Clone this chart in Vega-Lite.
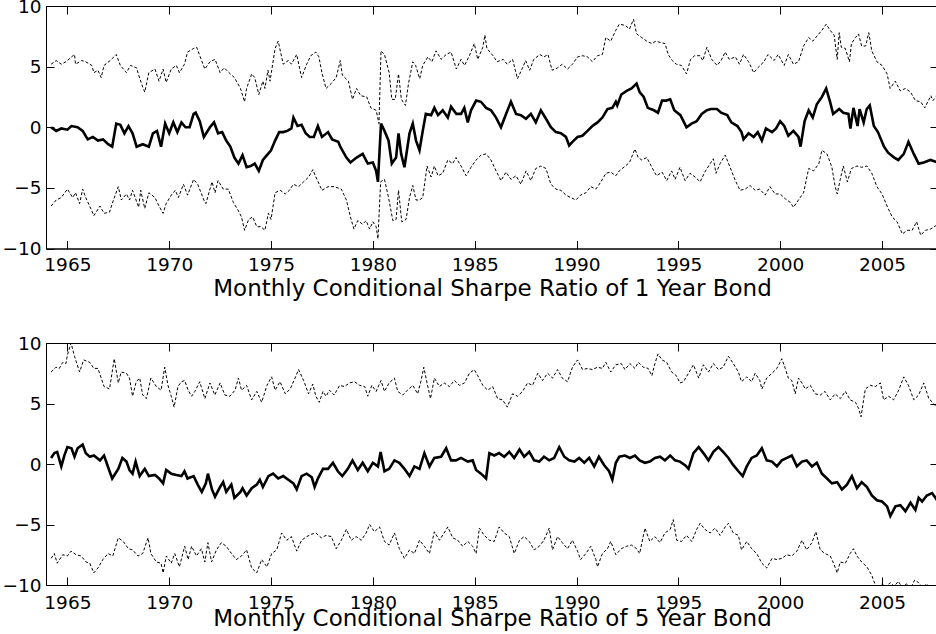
{
"$schema": "https://vega.github.io/schema/vega-lite/v6.json",
"background": "white",
"padding": {"left": 1, "top": -4, "right": 0, "bottom": 0},
"bounds": "flush",
"spacing": 94,
"config": {
  "font": "DejaVu Sans",
  "view": {"stroke": "black", "strokeWidth": 1},
  "axis": {"grid": false, "domainColor": "black", "tickColor": "black", "labelColor": "black", "titleColor": "black",
    "labelFont": "DejaVu Sans", "labelFontSize": 18.5, "titleFont": "DejaVu Sans", "titleFontSize": 23, "titleFontWeight": "normal",
    "tickSize": -8, "tickWidth": 1, "domainWidth": 1}
},
"datasets": {
"p1": [
{"s":"m","t":1964.2,"v":0.0},{"s":"m","t":1964.45,"v":-0.3},{"s":"m","t":1964.7,"v":-0.1},{"s":"m","t":1965.0,"v":-0.2},{"s":"m","t":1965.2,"v":0.1},{"s":"m","t":1965.5,"v":0.0},{"s":"m","t":1965.75,"v":-0.3},{"s":"m","t":1966.0,"v":-1.0},{"s":"m","t":1966.25,"v":-0.8},{"s":"m","t":1966.5,"v":-1.1},{"s":"m","t":1966.75,"v":-1.0},{"s":"m","t":1967.0,"v":-1.4},{"s":"m","t":1967.2,"v":-1.6},{"s":"m","t":1967.4,"v":0.3},{"s":"m","t":1967.6,"v":0.2},{"s":"m","t":1967.8,"v":-0.5},{"s":"m","t":1968.0,"v":0.1},{"s":"m","t":1968.2,"v":-0.5},{"s":"m","t":1968.4,"v":-1.6},{"s":"m","t":1968.7,"v":-1.4},{"s":"m","t":1969.0,"v":-1.6},{"s":"m","t":1969.2,"v":-0.5},{"s":"m","t":1969.4,"v":-0.3},{"s":"m","t":1969.6,"v":-1.6},{"s":"m","t":1969.8,"v":0.3},{"s":"m","t":1970.0,"v":-0.5},{"s":"m","t":1970.2,"v":0.4},{"s":"m","t":1970.4,"v":-0.4},{"s":"m","t":1970.6,"v":0.4},{"s":"m","t":1970.8,"v":0.0},{"s":"m","t":1971.0,"v":0.0},{"s":"m","t":1971.2,"v":1.1},{"s":"m","t":1971.3,"v":1.2},{"s":"m","t":1971.5,"v":0.5},{"s":"m","t":1971.7,"v":-0.8},{"s":"m","t":1972.0,"v":0.0},{"s":"m","t":1972.2,"v":0.4},{"s":"m","t":1972.4,"v":-0.5},{"s":"m","t":1972.6,"v":-0.4},{"s":"m","t":1972.8,"v":-1.1},{"s":"m","t":1973.0,"v":-1.6},{"s":"m","t":1973.2,"v":-2.5},{"s":"m","t":1973.4,"v":-3.0},{"s":"m","t":1973.6,"v":-2.3},{"s":"m","t":1973.8,"v":-3.3},{"s":"m","t":1974.0,"v":-3.2},{"s":"m","t":1974.2,"v":-3.0},{"s":"m","t":1974.4,"v":-3.6},{"s":"m","t":1974.6,"v":-2.7},{"s":"m","t":1974.8,"v":-2.3},{"s":"m","t":1975.0,"v":-1.9},{"s":"m","t":1975.2,"v":-1.1},{"s":"m","t":1975.4,"v":-0.4},{"s":"m","t":1975.6,"v":-0.4},{"s":"m","t":1975.8,"v":-0.3},{"s":"m","t":1976.0,"v":-0.1},{"s":"m","t":1976.1,"v":0.8},{"s":"m","t":1976.3,"v":0.1},{"s":"m","t":1976.5,"v":0.2},{"s":"m","t":1976.7,"v":-0.5},{"s":"m","t":1976.9,"v":-0.8},{"s":"m","t":1977.1,"v":-0.8},{"s":"m","t":1977.3,"v":0.1},{"s":"m","t":1977.5,"v":-0.8},{"s":"m","t":1977.8,"v":-0.4},{"s":"m","t":1978.0,"v":-1.0},{"s":"m","t":1978.3,"v":-1.2},{"s":"m","t":1978.4,"v":-1.6},{"s":"m","t":1978.7,"v":-2.5},{"s":"m","t":1978.9,"v":-2.9},{"s":"m","t":1979.2,"v":-2.5},{"s":"m","t":1979.5,"v":-2.2},{"s":"m","t":1979.75,"v":-3.0},{"s":"m","t":1980.0,"v":-2.9},{"s":"m","t":1980.16,"v":-3.6},{"s":"m","t":1980.25,"v":-4.5},{"s":"m","t":1980.4,"v":0.3},{"s":"m","t":1980.57,"v":-0.3},{"s":"m","t":1980.77,"v":-1.1},{"s":"m","t":1980.93,"v":-3.0},{"s":"m","t":1981.14,"v":-2.5},{"s":"m","t":1981.26,"v":-0.5},{"s":"m","t":1981.39,"v":-2.2},{"s":"m","t":1981.55,"v":-3.3},{"s":"m","t":1981.8,"v":-0.5},{"s":"m","t":1981.96,"v":0.3},{"s":"m","t":1982.12,"v":-1.1},{"s":"m","t":1982.29,"v":-1.9},{"s":"m","t":1982.45,"v":-0.3},{"s":"m","t":1982.6,"v":1.1},{"s":"m","t":1982.86,"v":1.0},{"s":"m","t":1983.02,"v":1.6},{"s":"m","t":1983.2,"v":1.0},{"s":"m","t":1983.43,"v":1.4},{"s":"m","t":1983.68,"v":0.8},{"s":"m","t":1983.84,"v":1.7},{"s":"m","t":1984.1,"v":1.1},{"s":"m","t":1984.33,"v":1.1},{"s":"m","t":1984.49,"v":1.6},{"s":"m","t":1984.66,"v":0.4},{"s":"m","t":1984.82,"v":1.4},{"s":"m","t":1985.07,"v":2.2},{"s":"m","t":1985.31,"v":2.1},{"s":"m","t":1985.56,"v":1.6},{"s":"m","t":1985.8,"v":1.4},{"s":"m","t":1986.05,"v":0.8},{"s":"m","t":1986.29,"v":0.0},{"s":"m","t":1986.54,"v":1.1},{"s":"m","t":1986.78,"v":2.1},{"s":"m","t":1987.03,"v":1.1},{"s":"m","t":1987.27,"v":1.0},{"s":"m","t":1987.52,"v":0.7},{"s":"m","t":1987.76,"v":1.1},{"s":"m","t":1988.0,"v":0.4},{"s":"m","t":1988.25,"v":1.4},{"s":"m","t":1988.5,"v":0.7},{"s":"m","t":1988.74,"v":0.0},{"s":"m","t":1988.99,"v":-0.4},{"s":"m","t":1989.23,"v":-0.5},{"s":"m","t":1989.48,"v":-0.8},{"s":"m","t":1989.64,"v":-1.5},{"s":"m","t":1989.8,"v":-1.2},{"s":"m","t":1990.05,"v":-0.8},{"s":"m","t":1990.29,"v":-0.7},{"s":"m","t":1990.54,"v":-0.3},{"s":"m","t":1990.78,"v":0.1},{"s":"m","t":1991.03,"v":0.4},{"s":"m","t":1991.27,"v":0.8},{"s":"m","t":1991.52,"v":1.5},{"s":"m","t":1991.76,"v":1.6},{"s":"m","t":1991.93,"v":2.1},{"s":"m","t":1992.0,"v":1.8},{"s":"m","t":1992.2,"v":2.7},{"s":"m","t":1992.46,"v":3.0},{"s":"m","t":1992.7,"v":3.2},{"s":"m","t":1992.95,"v":3.6},{"s":"m","t":1993.1,"v":2.9},{"s":"m","t":1993.3,"v":2.5},{"s":"m","t":1993.5,"v":1.6},{"s":"m","t":1993.8,"v":1.4},{"s":"m","t":1994.0,"v":1.2},{"s":"m","t":1994.2,"v":2.2},{"s":"m","t":1994.4,"v":2.2},{"s":"m","t":1994.6,"v":2.3},{"s":"m","t":1994.8,"v":1.4},{"s":"m","t":1995.1,"v":1.0},{"s":"m","t":1995.25,"v":0.5},{"s":"m","t":1995.4,"v":0.0},{"s":"m","t":1995.65,"v":0.3},{"s":"m","t":1995.9,"v":0.5},{"s":"m","t":1996.15,"v":1.1},{"s":"m","t":1996.4,"v":1.4},{"s":"m","t":1996.6,"v":1.5},{"s":"m","t":1996.9,"v":1.5},{"s":"m","t":1997.1,"v":1.2},{"s":"m","t":1997.4,"v":1.0},{"s":"m","t":1997.6,"v":0.4},{"s":"m","t":1997.9,"v":0.1},{"s":"m","t":1998.1,"v":-0.4},{"s":"m","t":1998.2,"v":-1.0},{"s":"m","t":1998.45,"v":-0.5},{"s":"m","t":1998.7,"v":-0.8},{"s":"m","t":1998.9,"v":-0.4},{"s":"m","t":1999.1,"v":-1.1},{"s":"m","t":1999.3,"v":-0.1},{"s":"m","t":1999.6,"v":-0.4},{"s":"m","t":1999.8,"v":-0.1},{"s":"m","t":2000.0,"v":0.5},{"s":"m","t":2000.2,"v":0.1},{"s":"m","t":2000.4,"v":-0.7},{"s":"m","t":2000.65,"v":-0.3},{"s":"m","t":2000.9,"v":-0.8},{"s":"m","t":2001.0,"v":-1.6},{"s":"m","t":2001.2,"v":0.5},{"s":"m","t":2001.4,"v":1.4},{"s":"m","t":2001.6,"v":0.8},{"s":"m","t":2001.8,"v":1.9},{"s":"m","t":2002.05,"v":2.5},{"s":"m","t":2002.26,"v":3.2},{"s":"m","t":2002.45,"v":2.1},{"s":"m","t":2002.6,"v":1.1},{"s":"m","t":2002.9,"v":1.5},{"s":"m","t":2003.1,"v":1.2},{"s":"m","t":2003.35,"v":1.1},{"s":"m","t":2003.45,"v":-0.1},{"s":"m","t":2003.6,"v":1.6},{"s":"m","t":2003.8,"v":0.1},{"s":"m","t":2003.9,"v":1.5},{"s":"m","t":2004.1,"v":0.4},{"s":"m","t":2004.25,"v":1.5},{"s":"m","t":2004.4,"v":1.8},{"s":"m","t":2004.6,"v":0.1},{"s":"m","t":2004.8,"v":-0.4},{"s":"m","t":2005.1,"v":-1.6},{"s":"m","t":2005.3,"v":-2.1},{"s":"m","t":2005.6,"v":-2.5},{"s":"m","t":2005.8,"v":-2.7},{"s":"m","t":2006.07,"v":-2.2},{"s":"m","t":2006.3,"v":-1.2},{"s":"m","t":2006.56,"v":-2.2},{"s":"m","t":2006.8,"v":-3.0},{"s":"m","t":2007.05,"v":-2.9},{"s":"m","t":2007.38,"v":-2.7},{"s":"m","t":2007.75,"v":-2.9},
{"s":"u","t":1964.2,"v":5.2},{"s":"u","t":1964.45,"v":5.5},{"s":"u","t":1964.7,"v":5.2},{"s":"u","t":1964.93,"v":5.4},{"s":"u","t":1965.2,"v":5.8},{"s":"u","t":1965.35,"v":6.0},{"s":"u","t":1965.4,"v":5.2},{"s":"u","t":1965.7,"v":5.5},{"s":"u","t":1965.9,"v":5.4},{"s":"u","t":1966.2,"v":5.1},{"s":"u","t":1966.3,"v":4.5},{"s":"u","t":1966.5,"v":4.7},{"s":"u","t":1966.66,"v":4.1},{"s":"u","t":1966.8,"v":5.1},{"s":"u","t":1967.1,"v":5.5},{"s":"u","t":1967.4,"v":6.0},{"s":"u","t":1967.6,"v":5.1},{"s":"u","t":1967.9,"v":4.5},{"s":"u","t":1968.1,"v":5.1},{"s":"u","t":1968.4,"v":4.9},{"s":"u","t":1968.5,"v":4.3},{"s":"u","t":1968.7,"v":3.3},{"s":"u","t":1968.8,"v":2.9},{"s":"u","t":1969.0,"v":4.5},{"s":"u","t":1969.3,"v":4.8},{"s":"u","t":1969.5,"v":3.8},{"s":"u","t":1969.7,"v":4.8},{"s":"u","t":1969.85,"v":3.7},{"s":"u","t":1970.1,"v":4.8},{"s":"u","t":1970.35,"v":5.1},{"s":"u","t":1970.5,"v":4.5},{"s":"u","t":1970.75,"v":5.2},{"s":"u","t":1970.9,"v":6.2},{"s":"u","t":1971.2,"v":6.5},{"s":"u","t":1971.35,"v":6.6},{"s":"u","t":1971.5,"v":5.9},{"s":"u","t":1971.75,"v":4.8},{"s":"u","t":1972.0,"v":5.4},{"s":"u","t":1972.25,"v":5.6},{"s":"u","t":1972.5,"v":4.5},{"s":"u","t":1972.7,"v":4.9},{"s":"u","t":1973.0,"v":4.4},{"s":"u","t":1973.2,"v":4.1},{"s":"u","t":1973.5,"v":3.2},{"s":"u","t":1973.7,"v":2.1},{"s":"u","t":1973.8,"v":3.2},{"s":"u","t":1974.05,"v":4.4},{"s":"u","t":1974.2,"v":4.1},{"s":"u","t":1974.4,"v":2.7},{"s":"u","t":1974.6,"v":3.8},{"s":"u","t":1974.7,"v":3.2},{"s":"u","t":1974.85,"v":4.7},{"s":"u","t":1974.95,"v":3.8},{"s":"u","t":1975.2,"v":6.5},{"s":"u","t":1975.35,"v":7.1},{"s":"u","t":1975.6,"v":5.2},{"s":"u","t":1975.85,"v":5.5},{"s":"u","t":1976.0,"v":5.2},{"s":"u","t":1976.26,"v":6.0},{"s":"u","t":1976.5,"v":4.1},{"s":"u","t":1976.75,"v":5.2},{"s":"u","t":1976.95,"v":5.9},{"s":"u","t":1977.2,"v":6.2},{"s":"u","t":1977.35,"v":5.8},{"s":"u","t":1977.5,"v":4.5},{"s":"u","t":1977.7,"v":3.2},{"s":"u","t":1977.95,"v":3.6},{"s":"u","t":1978.2,"v":4.1},{"s":"u","t":1978.4,"v":5.5},{"s":"u","t":1978.5,"v":4.3},{"s":"u","t":1978.8,"v":3.8},{"s":"u","t":1979.0,"v":2.3},{"s":"u","t":1979.2,"v":3.2},{"s":"u","t":1979.4,"v":2.6},{"s":"u","t":1979.7,"v":2.5},{"s":"u","t":1979.9,"v":1.6},{"s":"u","t":1980.16,"v":1.4},{"s":"u","t":1980.3,"v":0.3},{"s":"u","t":1980.4,"v":6.3},{"s":"u","t":1980.57,"v":6.0},{"s":"u","t":1980.8,"v":4.5},{"s":"u","t":1980.93,"v":2.3},{"s":"u","t":1981.1,"v":2.3},{"s":"u","t":1981.26,"v":4.4},{"s":"u","t":1981.4,"v":2.3},{"s":"u","t":1981.6,"v":1.8},{"s":"u","t":1981.75,"v":3.6},{"s":"u","t":1981.96,"v":5.4},{"s":"u","t":1982.1,"v":5.1},{"s":"u","t":1982.3,"v":4.0},{"s":"u","t":1982.45,"v":5.1},{"s":"u","t":1982.7,"v":5.8},{"s":"u","t":1982.9,"v":5.4},{"s":"u","t":1983.1,"v":6.3},{"s":"u","t":1983.35,"v":5.6},{"s":"u","t":1983.6,"v":6.0},{"s":"u","t":1983.84,"v":6.2},{"s":"u","t":1984.1,"v":4.8},{"s":"u","t":1984.33,"v":5.6},{"s":"u","t":1984.5,"v":5.1},{"s":"u","t":1984.74,"v":5.9},{"s":"u","t":1984.98,"v":6.9},{"s":"u","t":1985.15,"v":5.6},{"s":"u","t":1985.4,"v":6.6},{"s":"u","t":1985.5,"v":7.6},{"s":"u","t":1985.6,"v":6.5},{"s":"u","t":1985.9,"v":5.9},{"s":"u","t":1986.1,"v":5.4},{"s":"u","t":1986.4,"v":5.6},{"s":"u","t":1986.6,"v":5.2},{"s":"u","t":1986.86,"v":5.6},{"s":"u","t":1987.1,"v":4.0},{"s":"u","t":1987.35,"v":4.9},{"s":"u","t":1987.5,"v":5.5},{"s":"u","t":1987.7,"v":4.7},{"s":"u","t":1987.9,"v":5.6},{"s":"u","t":1988.2,"v":6.0},{"s":"u","t":1988.4,"v":5.8},{"s":"u","t":1988.6,"v":6.0},{"s":"u","t":1988.8,"v":4.7},{"s":"u","t":1989.07,"v":4.9},{"s":"u","t":1989.3,"v":5.2},{"s":"u","t":1989.56,"v":4.8},{"s":"u","t":1989.8,"v":5.2},{"s":"u","t":1990.05,"v":5.8},{"s":"u","t":1990.3,"v":5.9},{"s":"u","t":1990.54,"v":5.8},{"s":"u","t":1990.78,"v":5.4},{"s":"u","t":1991.03,"v":5.9},{"s":"u","t":1991.27,"v":6.0},{"s":"u","t":1991.44,"v":7.4},{"s":"u","t":1991.68,"v":7.1},{"s":"u","t":1991.93,"v":8.0},{"s":"u","t":1992.1,"v":8.5},{"s":"u","t":1992.4,"v":8.4},{"s":"u","t":1992.6,"v":8.1},{"s":"u","t":1992.8,"v":8.9},{"s":"u","t":1992.95,"v":7.7},{"s":"u","t":1993.2,"v":7.4},{"s":"u","t":1993.45,"v":7.1},{"s":"u","t":1993.7,"v":6.9},{"s":"u","t":1993.9,"v":7.1},{"s":"u","t":1994.1,"v":7.0},{"s":"u","t":1994.35,"v":6.9},{"s":"u","t":1994.5,"v":6.0},{"s":"u","t":1994.7,"v":5.5},{"s":"u","t":1994.9,"v":5.2},{"s":"u","t":1995.15,"v":5.1},{"s":"u","t":1995.4,"v":4.4},{"s":"u","t":1995.6,"v":5.6},{"s":"u","t":1995.8,"v":5.9},{"s":"u","t":1996.07,"v":5.9},{"s":"u","t":1996.2,"v":5.5},{"s":"u","t":1996.4,"v":6.6},{"s":"u","t":1996.64,"v":5.6},{"s":"u","t":1996.9,"v":5.1},{"s":"u","t":1997.1,"v":5.5},{"s":"u","t":1997.3,"v":6.2},{"s":"u","t":1997.5,"v":5.6},{"s":"u","t":1997.8,"v":5.8},{"s":"u","t":1998.0,"v":5.2},{"s":"u","t":1998.2,"v":6.0},{"s":"u","t":1998.45,"v":5.4},{"s":"u","t":1998.7,"v":4.5},{"s":"u","t":1998.9,"v":4.9},{"s":"u","t":1999.2,"v":5.4},{"s":"u","t":1999.4,"v":6.0},{"s":"u","t":1999.7,"v":5.5},{"s":"u","t":1999.9,"v":6.0},{"s":"u","t":2000.2,"v":5.1},{"s":"u","t":2000.4,"v":6.0},{"s":"u","t":2000.65,"v":5.2},{"s":"u","t":2000.9,"v":5.4},{"s":"u","t":2001.15,"v":6.7},{"s":"u","t":2001.4,"v":7.4},{"s":"u","t":2001.6,"v":7.1},{"s":"u","t":2001.9,"v":7.7},{"s":"u","t":2002.05,"v":8.0},{"s":"u","t":2002.26,"v":8.5},{"s":"u","t":2002.45,"v":8.0},{"s":"u","t":2002.65,"v":7.6},{"s":"u","t":2002.8,"v":5.6},{"s":"u","t":2002.9,"v":7.8},{"s":"u","t":2003.0,"v":6.6},{"s":"u","t":2003.2,"v":6.5},{"s":"u","t":2003.4,"v":5.4},{"s":"u","t":2003.5,"v":6.9},{"s":"u","t":2003.7,"v":7.4},{"s":"u","t":2003.85,"v":7.7},{"s":"u","t":2004.0,"v":6.7},{"s":"u","t":2004.2,"v":6.7},{"s":"u","t":2004.35,"v":7.8},{"s":"u","t":2004.5,"v":6.3},{"s":"u","t":2004.75,"v":5.4},{"s":"u","t":2005.0,"v":5.1},{"s":"u","t":2005.25,"v":4.4},{"s":"u","t":2005.4,"v":3.2},{"s":"u","t":2005.65,"v":3.8},{"s":"u","t":2005.9,"v":3.0},{"s":"u","t":2006.15,"v":3.2},{"s":"u","t":2006.4,"v":2.9},{"s":"u","t":2006.64,"v":2.2},{"s":"u","t":2006.9,"v":2.1},{"s":"u","t":2007.1,"v":1.6},{"s":"u","t":2007.4,"v":2.6},{"s":"u","t":2007.5,"v":2.2},{"s":"u","t":2007.75,"v":2.7},
{"s":"l","t":1964.2,"v":-6.5},{"s":"l","t":1964.45,"v":-6.0},{"s":"l","t":1964.7,"v":-5.8},{"s":"l","t":1965.0,"v":-5.1},{"s":"l","t":1965.26,"v":-5.8},{"s":"l","t":1965.4,"v":-5.4},{"s":"l","t":1965.6,"v":-6.3},{"s":"l","t":1965.75,"v":-5.1},{"s":"l","t":1965.9,"v":-5.8},{"s":"l","t":1966.2,"v":-6.9},{"s":"l","t":1966.3,"v":-7.3},{"s":"l","t":1966.6,"v":-6.5},{"s":"l","t":1966.8,"v":-7.1},{"s":"l","t":1967.07,"v":-7.0},{"s":"l","t":1967.2,"v":-6.3},{"s":"l","t":1967.5,"v":-4.9},{"s":"l","t":1967.65,"v":-6.0},{"s":"l","t":1967.9,"v":-5.5},{"s":"l","t":1968.05,"v":-6.0},{"s":"l","t":1968.2,"v":-5.2},{"s":"l","t":1968.5,"v":-6.6},{"s":"l","t":1968.6,"v":-5.2},{"s":"l","t":1968.8,"v":-6.7},{"s":"l","t":1969.0,"v":-5.4},{"s":"l","t":1969.3,"v":-5.8},{"s":"l","t":1969.5,"v":-6.5},{"s":"l","t":1969.7,"v":-7.1},{"s":"l","t":1969.85,"v":-6.3},{"s":"l","t":1970.1,"v":-5.6},{"s":"l","t":1970.3,"v":-5.2},{"s":"l","t":1970.45,"v":-5.8},{"s":"l","t":1970.7,"v":-4.7},{"s":"l","t":1970.9,"v":-5.6},{"s":"l","t":1971.2,"v":-4.3},{"s":"l","t":1971.4,"v":-4.7},{"s":"l","t":1971.7,"v":-6.0},{"s":"l","t":1971.8,"v":-6.3},{"s":"l","t":1972.1,"v":-4.5},{"s":"l","t":1972.25,"v":-5.4},{"s":"l","t":1972.4,"v":-4.4},{"s":"l","t":1972.65,"v":-5.1},{"s":"l","t":1972.9,"v":-5.1},{"s":"l","t":1973.15,"v":-6.2},{"s":"l","t":1973.4,"v":-6.9},{"s":"l","t":1973.55,"v":-7.4},{"s":"l","t":1973.7,"v":-8.5},{"s":"l","t":1973.9,"v":-7.6},{"s":"l","t":1974.1,"v":-7.4},{"s":"l","t":1974.3,"v":-8.2},{"s":"l","t":1974.5,"v":-8.2},{"s":"l","t":1974.7,"v":-8.5},{"s":"l","t":1974.87,"v":-7.1},{"s":"l","t":1975.0,"v":-7.6},{"s":"l","t":1975.2,"v":-5.4},{"s":"l","t":1975.45,"v":-5.2},{"s":"l","t":1975.7,"v":-5.5},{"s":"l","t":1975.9,"v":-5.2},{"s":"l","t":1976.1,"v":-4.7},{"s":"l","t":1976.35,"v":-4.9},{"s":"l","t":1976.6,"v":-4.5},{"s":"l","t":1976.85,"v":-4.1},{"s":"l","t":1977.05,"v":-3.5},{"s":"l","t":1977.2,"v":-4.1},{"s":"l","t":1977.5,"v":-5.2},{"s":"l","t":1977.8,"v":-4.9},{"s":"l","t":1978.1,"v":-4.9},{"s":"l","t":1978.45,"v":-5.1},{"s":"l","t":1978.7,"v":-6.0},{"s":"l","t":1978.9,"v":-7.4},{"s":"l","t":1979.07,"v":-8.4},{"s":"l","t":1979.26,"v":-7.7},{"s":"l","t":1979.5,"v":-8.0},{"s":"l","t":1979.67,"v":-7.7},{"s":"l","t":1979.84,"v":-8.4},{"s":"l","t":1980.0,"v":-7.8},{"s":"l","t":1980.16,"v":-8.2},{"s":"l","t":1980.25,"v":-9.2},{"s":"l","t":1980.38,"v":-4.5},{"s":"l","t":1980.57,"v":-4.3},{"s":"l","t":1980.77,"v":-5.8},{"s":"l","t":1980.98,"v":-7.7},{"s":"l","t":1981.14,"v":-7.6},{"s":"l","t":1981.26,"v":-5.2},{"s":"l","t":1981.42,"v":-7.8},{"s":"l","t":1981.63,"v":-7.6},{"s":"l","t":1981.8,"v":-5.8},{"s":"l","t":1981.96,"v":-4.8},{"s":"l","t":1982.12,"v":-6.0},{"s":"l","t":1982.29,"v":-6.0},{"s":"l","t":1982.45,"v":-5.8},{"s":"l","t":1982.66,"v":-3.2},{"s":"l","t":1982.86,"v":-4.1},{"s":"l","t":1983.02,"v":-3.2},{"s":"l","t":1983.2,"v":-4.0},{"s":"l","t":1983.43,"v":-3.8},{"s":"l","t":1983.68,"v":-2.7},{"s":"l","t":1983.92,"v":-3.0},{"s":"l","t":1984.08,"v":-2.5},{"s":"l","t":1984.33,"v":-3.2},{"s":"l","t":1984.58,"v":-4.0},{"s":"l","t":1984.82,"v":-3.3},{"s":"l","t":1985.07,"v":-2.7},{"s":"l","t":1985.31,"v":-2.3},{"s":"l","t":1985.56,"v":-2.2},{"s":"l","t":1985.8,"v":-2.7},{"s":"l","t":1986.05,"v":-3.6},{"s":"l","t":1986.29,"v":-4.4},{"s":"l","t":1986.54,"v":-3.7},{"s":"l","t":1986.78,"v":-4.3},{"s":"l","t":1987.03,"v":-4.0},{"s":"l","t":1987.27,"v":-4.7},{"s":"l","t":1987.52,"v":-3.6},{"s":"l","t":1987.76,"v":-4.4},{"s":"l","t":1988.0,"v":-3.4},{"s":"l","t":1988.25,"v":-3.2},{"s":"l","t":1988.5,"v":-3.4},{"s":"l","t":1988.74,"v":-4.7},{"s":"l","t":1988.99,"v":-5.1},{"s":"l","t":1989.23,"v":-5.2},{"s":"l","t":1989.48,"v":-5.6},{"s":"l","t":1989.72,"v":-5.8},{"s":"l","t":1989.97,"v":-6.0},{"s":"l","t":1990.2,"v":-5.6},{"s":"l","t":1990.46,"v":-5.4},{"s":"l","t":1990.7,"v":-4.9},{"s":"l","t":1990.95,"v":-5.1},{"s":"l","t":1991.2,"v":-4.5},{"s":"l","t":1991.44,"v":-3.8},{"s":"l","t":1991.68,"v":-3.7},{"s":"l","t":1991.93,"v":-4.0},{"s":"l","t":1992.1,"v":-3.6},{"s":"l","t":1992.4,"v":-3.2},{"s":"l","t":1992.6,"v":-2.9},{"s":"l","t":1992.87,"v":-1.8},{"s":"l","t":1993.03,"v":-2.5},{"s":"l","t":1993.2,"v":-2.7},{"s":"l","t":1993.45,"v":-2.5},{"s":"l","t":1993.7,"v":-3.3},{"s":"l","t":1993.93,"v":-4.0},{"s":"l","t":1994.2,"v":-3.7},{"s":"l","t":1994.43,"v":-4.4},{"s":"l","t":1994.67,"v":-3.6},{"s":"l","t":1994.84,"v":-4.3},{"s":"l","t":1995.08,"v":-3.3},{"s":"l","t":1995.33,"v":-4.4},{"s":"l","t":1995.57,"v":-3.8},{"s":"l","t":1995.82,"v":-4.1},{"s":"l","t":1996.07,"v":-4.5},{"s":"l","t":1996.3,"v":-3.7},{"s":"l","t":1996.56,"v":-3.0},{"s":"l","t":1996.72,"v":-2.6},{"s":"l","t":1996.85,"v":-3.8},{"s":"l","t":1997.05,"v":-3.0},{"s":"l","t":1997.3,"v":-2.3},{"s":"l","t":1997.54,"v":-3.3},{"s":"l","t":1997.8,"v":-4.4},{"s":"l","t":1998.03,"v":-5.2},{"s":"l","t":1998.28,"v":-5.1},{"s":"l","t":1998.52,"v":-4.8},{"s":"l","t":1998.77,"v":-5.2},{"s":"l","t":1999.0,"v":-5.1},{"s":"l","t":1999.26,"v":-5.6},{"s":"l","t":1999.5,"v":-4.9},{"s":"l","t":1999.75,"v":-5.5},{"s":"l","t":2000.0,"v":-5.5},{"s":"l","t":2000.25,"v":-5.9},{"s":"l","t":2000.5,"v":-6.2},{"s":"l","t":2000.65,"v":-6.6},{"s":"l","t":2000.9,"v":-6.0},{"s":"l","t":2001.15,"v":-5.4},{"s":"l","t":2001.4,"v":-3.4},{"s":"l","t":2001.64,"v":-3.6},{"s":"l","t":2001.9,"v":-3.0},{"s":"l","t":2002.05,"v":-1.9},{"s":"l","t":2002.3,"v":-2.2},{"s":"l","t":2002.54,"v":-3.3},{"s":"l","t":2002.7,"v":-4.9},{"s":"l","t":2002.8,"v":-5.5},{"s":"l","t":2002.95,"v":-4.3},{"s":"l","t":2003.1,"v":-3.2},{"s":"l","t":2003.3,"v":-4.5},{"s":"l","t":2003.5,"v":-3.4},{"s":"l","t":2003.77,"v":-3.2},{"s":"l","t":2004.0,"v":-3.3},{"s":"l","t":2004.26,"v":-3.2},{"s":"l","t":2004.5,"v":-3.8},{"s":"l","t":2004.75,"v":-4.9},{"s":"l","t":2005.0,"v":-5.5},{"s":"l","t":2005.25,"v":-6.5},{"s":"l","t":2005.5,"v":-7.4},{"s":"l","t":2005.74,"v":-7.8},{"s":"l","t":2006.0,"v":-8.8},{"s":"l","t":2006.23,"v":-8.5},{"s":"l","t":2006.48,"v":-8.5},{"s":"l","t":2006.7,"v":-7.8},{"s":"l","t":2006.9,"v":-8.9},{"s":"l","t":2007.13,"v":-8.5},{"s":"l","t":2007.38,"v":-8.4},{"s":"l","t":2007.75,"v":-8.0}
],
"p2": [
{"s":"m","t":1964.2,"v":0.5},{"s":"m","t":1964.36,"v":0.9},{"s":"m","t":1964.5,"v":1.0},{"s":"m","t":1964.7,"v":-0.2},{"s":"m","t":1964.85,"v":0.7},{"s":"m","t":1965.0,"v":1.4},{"s":"m","t":1965.2,"v":1.3},{"s":"m","t":1965.35,"v":0.6},{"s":"m","t":1965.5,"v":1.3},{"s":"m","t":1965.75,"v":1.6},{"s":"m","t":1965.9,"v":0.9},{"s":"m","t":1966.1,"v":0.6},{"s":"m","t":1966.3,"v":0.7},{"s":"m","t":1966.6,"v":0.3},{"s":"m","t":1966.8,"v":0.7},{"s":"m","t":1967.07,"v":-0.6},{"s":"m","t":1967.2,"v":-1.2},{"s":"m","t":1967.5,"v":-0.4},{"s":"m","t":1967.7,"v":0.5},{"s":"m","t":1967.9,"v":0.2},{"s":"m","t":1968.05,"v":-0.5},{"s":"m","t":1968.2,"v":-0.8},{"s":"m","t":1968.35,"v":0.2},{"s":"m","t":1968.55,"v":-1.0},{"s":"m","t":1968.8,"v":-0.4},{"s":"m","t":1969.0,"v":-1.0},{"s":"m","t":1969.3,"v":-0.9},{"s":"m","t":1969.5,"v":-1.2},{"s":"m","t":1969.7,"v":-1.6},{"s":"m","t":1969.85,"v":-0.5},{"s":"m","t":1970.1,"v":-0.8},{"s":"m","t":1970.35,"v":-0.9},{"s":"m","t":1970.6,"v":-1.0},{"s":"m","t":1970.75,"v":-0.6},{"s":"m","t":1970.9,"v":-1.2},{"s":"m","t":1971.2,"v":-1.0},{"s":"m","t":1971.4,"v":-1.7},{"s":"m","t":1971.6,"v":-2.3},{"s":"m","t":1971.8,"v":-1.6},{"s":"m","t":1971.9,"v":-0.8},{"s":"m","t":1972.1,"v":-2.1},{"s":"m","t":1972.25,"v":-2.7},{"s":"m","t":1972.5,"v":-1.9},{"s":"m","t":1972.65,"v":-1.5},{"s":"m","t":1972.8,"v":-2.3},{"s":"m","t":1973.05,"v":-1.7},{"s":"m","t":1973.2,"v":-2.8},{"s":"m","t":1973.5,"v":-2.3},{"s":"m","t":1973.6,"v":-2.0},{"s":"m","t":1973.8,"v":-2.6},{"s":"m","t":1974.05,"v":-2.0},{"s":"m","t":1974.3,"v":-1.7},{"s":"m","t":1974.45,"v":-1.3},{"s":"m","t":1974.6,"v":-1.9},{"s":"m","t":1974.87,"v":-1.0},{"s":"m","t":1975.1,"v":-0.8},{"s":"m","t":1975.35,"v":-1.2},{"s":"m","t":1975.6,"v":-1.0},{"s":"m","t":1975.85,"v":-1.3},{"s":"m","t":1976.1,"v":-1.6},{"s":"m","t":1976.26,"v":-2.1},{"s":"m","t":1976.5,"v":-1.0},{"s":"m","t":1976.75,"v":-0.8},{"s":"m","t":1977.0,"v":-1.1},{"s":"m","t":1977.14,"v":-1.9},{"s":"m","t":1977.3,"v":-1.2},{"s":"m","t":1977.55,"v":-0.4},{"s":"m","t":1977.8,"v":-0.4},{"s":"m","t":1978.04,"v":0.1},{"s":"m","t":1978.28,"v":-0.6},{"s":"m","t":1978.5,"v":-1.0},{"s":"m","t":1978.77,"v":-0.4},{"s":"m","t":1979.0,"v":0.3},{"s":"m","t":1979.26,"v":-0.5},{"s":"m","t":1979.5,"v":0.1},{"s":"m","t":1979.75,"v":-0.6},{"s":"m","t":1980.0,"v":0.1},{"s":"m","t":1980.25,"v":-0.2},{"s":"m","t":1980.38,"v":1.0},{"s":"m","t":1980.57,"v":-0.6},{"s":"m","t":1980.8,"v":-0.4},{"s":"m","t":1981.06,"v":0.3},{"s":"m","t":1981.3,"v":0.1},{"s":"m","t":1981.55,"v":-0.4},{"s":"m","t":1981.8,"v":-1.0},{"s":"m","t":1982.04,"v":-0.2},{"s":"m","t":1982.29,"v":-0.4},{"s":"m","t":1982.53,"v":0.9},{"s":"m","t":1982.78,"v":-0.2},{"s":"m","t":1983.02,"v":0.5},{"s":"m","t":1983.35,"v":0.6},{"s":"m","t":1983.6,"v":1.3},{"s":"m","t":1983.84,"v":0.3},{"s":"m","t":1984.08,"v":0.3},{"s":"m","t":1984.33,"v":0.5},{"s":"m","t":1984.66,"v":0.2},{"s":"m","t":1984.9,"v":0.3},{"s":"m","t":1985.07,"v":-0.5},{"s":"m","t":1985.31,"v":-0.8},{"s":"m","t":1985.56,"v":-1.2},{"s":"m","t":1985.72,"v":0.9},{"s":"m","t":1985.96,"v":0.7},{"s":"m","t":1986.2,"v":0.9},{"s":"m","t":1986.45,"v":0.6},{"s":"m","t":1986.7,"v":1.0},{"s":"m","t":1986.94,"v":0.5},{"s":"m","t":1987.2,"v":1.2},{"s":"m","t":1987.43,"v":0.6},{"s":"m","t":1987.68,"v":1.0},{"s":"m","t":1987.92,"v":0.3},{"s":"m","t":1988.17,"v":0.2},{"s":"m","t":1988.4,"v":0.6},{"s":"m","t":1988.66,"v":0.3},{"s":"m","t":1988.9,"v":0.5},{"s":"m","t":1989.15,"v":1.4},{"s":"m","t":1989.4,"v":0.6},{"s":"m","t":1989.64,"v":0.3},{"s":"m","t":1989.9,"v":0.2},{"s":"m","t":1990.13,"v":0.5},{"s":"m","t":1990.38,"v":0.1},{"s":"m","t":1990.62,"v":0.5},{"s":"m","t":1990.87,"v":-0.2},{"s":"m","t":1991.1,"v":0.6},{"s":"m","t":1991.36,"v":-0.1},{"s":"m","t":1991.6,"v":-0.6},{"s":"m","t":1991.76,"v":-1.3},{"s":"m","t":1991.93,"v":0.1},{"s":"m","t":1992.1,"v":0.6},{"s":"m","t":1992.38,"v":0.7},{"s":"m","t":1992.62,"v":0.5},{"s":"m","t":1992.87,"v":0.7},{"s":"m","t":1993.1,"v":0.3},{"s":"m","t":1993.36,"v":0.1},{"s":"m","t":1993.6,"v":0.2},{"s":"m","t":1993.85,"v":0.5},{"s":"m","t":1994.1,"v":0.6},{"s":"m","t":1994.34,"v":0.3},{"s":"m","t":1994.6,"v":0.7},{"s":"m","t":1994.84,"v":0.3},{"s":"m","t":1995.08,"v":0.2},{"s":"m","t":1995.33,"v":-0.1},{"s":"m","t":1995.5,"v":-0.4},{"s":"m","t":1995.74,"v":0.9},{"s":"m","t":1996.0,"v":1.4},{"s":"m","t":1996.23,"v":0.9},{"s":"m","t":1996.48,"v":0.3},{"s":"m","t":1996.72,"v":1.0},{"s":"m","t":1996.97,"v":1.4},{"s":"m","t":1997.2,"v":1.0},{"s":"m","t":1997.46,"v":0.5},{"s":"m","t":1997.7,"v":-0.1},{"s":"m","t":1997.95,"v":-0.6},{"s":"m","t":1998.16,"v":-1.0},{"s":"m","t":1998.36,"v":-0.2},{"s":"m","t":1998.6,"v":0.5},{"s":"m","t":1998.85,"v":0.7},{"s":"m","t":1999.1,"v":1.3},{"s":"m","t":1999.34,"v":0.3},{"s":"m","t":1999.6,"v":0.2},{"s":"m","t":1999.84,"v":-0.2},{"s":"m","t":2000.08,"v":0.3},{"s":"m","t":2000.33,"v":0.5},{"s":"m","t":2000.57,"v":0.7},{"s":"m","t":2000.82,"v":-0.2},{"s":"m","t":2001.07,"v":0.2},{"s":"m","t":2001.3,"v":0.3},{"s":"m","t":2001.56,"v":-0.2},{"s":"m","t":2001.8,"v":0.1},{"s":"m","t":2002.05,"v":-0.8},{"s":"m","t":2002.3,"v":-1.2},{"s":"m","t":2002.54,"v":-1.6},{"s":"m","t":2002.8,"v":-1.5},{"s":"m","t":2003.03,"v":-2.1},{"s":"m","t":2003.28,"v":-1.7},{"s":"m","t":2003.52,"v":-1.0},{"s":"m","t":2003.77,"v":-2.0},{"s":"m","t":2004.0,"v":-1.5},{"s":"m","t":2004.26,"v":-1.9},{"s":"m","t":2004.5,"v":-2.6},{"s":"m","t":2004.75,"v":-3.0},{"s":"m","t":2005.0,"v":-3.1},{"s":"m","t":2005.25,"v":-3.5},{"s":"m","t":2005.41,"v":-4.3},{"s":"m","t":2005.66,"v":-3.5},{"s":"m","t":2005.9,"v":-3.4},{"s":"m","t":2006.15,"v":-3.9},{"s":"m","t":2006.4,"v":-3.2},{"s":"m","t":2006.64,"v":-3.8},{"s":"m","t":2006.8,"v":-2.8},{"s":"m","t":2006.97,"v":-3.1},{"s":"m","t":2007.2,"v":-2.6},{"s":"m","t":2007.46,"v":-2.4},{"s":"m","t":2007.75,"v":-3.1},
{"s":"u","t":1964.2,"v":7.6},{"s":"u","t":1964.44,"v":8.0},{"s":"u","t":1964.6,"v":7.9},{"s":"u","t":1964.77,"v":8.4},{"s":"u","t":1964.93,"v":8.3},{"s":"u","t":1965.0,"v":9.0},{"s":"u","t":1965.18,"v":10.0},{"s":"u","t":1965.35,"v":8.9},{"s":"u","t":1965.6,"v":7.6},{"s":"u","t":1965.8,"v":8.6},{"s":"u","t":1966.1,"v":8.4},{"s":"u","t":1966.3,"v":7.9},{"s":"u","t":1966.5,"v":7.9},{"s":"u","t":1966.66,"v":7.1},{"s":"u","t":1966.8,"v":6.4},{"s":"u","t":1967.07,"v":6.2},{"s":"u","t":1967.3,"v":8.7},{"s":"u","t":1967.5,"v":6.7},{"s":"u","t":1967.64,"v":7.6},{"s":"u","t":1967.9,"v":7.5},{"s":"u","t":1968.05,"v":7.1},{"s":"u","t":1968.2,"v":5.6},{"s":"u","t":1968.38,"v":6.8},{"s":"u","t":1968.55,"v":7.1},{"s":"u","t":1968.7,"v":5.7},{"s":"u","t":1968.88,"v":5.4},{"s":"u","t":1969.1,"v":7.1},{"s":"u","t":1969.37,"v":6.4},{"s":"u","t":1969.6,"v":6.1},{"s":"u","t":1969.78,"v":8.0},{"s":"u","t":1969.94,"v":6.5},{"s":"u","t":1970.1,"v":5.6},{"s":"u","t":1970.24,"v":4.7},{"s":"u","t":1970.43,"v":6.4},{"s":"u","t":1970.6,"v":6.8},{"s":"u","t":1970.76,"v":6.9},{"s":"u","t":1970.93,"v":6.1},{"s":"u","t":1971.1,"v":5.6},{"s":"u","t":1971.26,"v":6.0},{"s":"u","t":1971.5,"v":6.8},{"s":"u","t":1971.75,"v":5.4},{"s":"u","t":1972.0,"v":6.7},{"s":"u","t":1972.24,"v":5.7},{"s":"u","t":1972.5,"v":6.7},{"s":"u","t":1972.73,"v":5.7},{"s":"u","t":1972.98,"v":5.6},{"s":"u","t":1973.23,"v":6.1},{"s":"u","t":1973.4,"v":7.1},{"s":"u","t":1973.55,"v":6.1},{"s":"u","t":1973.8,"v":6.5},{"s":"u","t":1974.05,"v":5.3},{"s":"u","t":1974.3,"v":6.0},{"s":"u","t":1974.54,"v":5.1},{"s":"u","t":1974.8,"v":6.5},{"s":"u","t":1975.03,"v":7.2},{"s":"u","t":1975.2,"v":6.1},{"s":"u","t":1975.44,"v":6.8},{"s":"u","t":1975.7,"v":5.8},{"s":"u","t":1975.94,"v":6.2},{"s":"u","t":1976.18,"v":7.1},{"s":"u","t":1976.35,"v":7.8},{"s":"u","t":1976.6,"v":6.9},{"s":"u","t":1976.84,"v":5.8},{"s":"u","t":1977.05,"v":6.6},{"s":"u","t":1977.2,"v":5.6},{"s":"u","t":1977.37,"v":5.1},{"s":"u","t":1977.55,"v":6.0},{"s":"u","t":1977.7,"v":5.6},{"s":"u","t":1977.87,"v":6.1},{"s":"u","t":1978.1,"v":5.7},{"s":"u","t":1978.37,"v":6.5},{"s":"u","t":1978.6,"v":6.4},{"s":"u","t":1978.86,"v":6.7},{"s":"u","t":1979.1,"v":6.8},{"s":"u","t":1979.35,"v":6.5},{"s":"u","t":1979.6,"v":6.4},{"s":"u","t":1979.75,"v":5.6},{"s":"u","t":1979.95,"v":6.5},{"s":"u","t":1980.16,"v":6.0},{"s":"u","t":1980.4,"v":6.9},{"s":"u","t":1980.57,"v":6.0},{"s":"u","t":1980.8,"v":6.7},{"s":"u","t":1981.06,"v":7.1},{"s":"u","t":1981.22,"v":6.0},{"s":"u","t":1981.47,"v":5.7},{"s":"u","t":1981.7,"v":6.1},{"s":"u","t":1981.96,"v":6.5},{"s":"u","t":1982.2,"v":5.8},{"s":"u","t":1982.37,"v":6.9},{"s":"u","t":1982.5,"v":8.0},{"s":"u","t":1982.66,"v":6.7},{"s":"u","t":1982.83,"v":5.4},{"s":"u","t":1983.02,"v":7.1},{"s":"u","t":1983.27,"v":6.4},{"s":"u","t":1983.5,"v":6.7},{"s":"u","t":1983.76,"v":6.4},{"s":"u","t":1984.0,"v":6.9},{"s":"u","t":1984.25,"v":6.5},{"s":"u","t":1984.5,"v":6.7},{"s":"u","t":1984.74,"v":7.5},{"s":"u","t":1984.98,"v":7.8},{"s":"u","t":1985.15,"v":7.3},{"s":"u","t":1985.4,"v":6.5},{"s":"u","t":1985.64,"v":6.1},{"s":"u","t":1985.88,"v":6.4},{"s":"u","t":1986.13,"v":5.4},{"s":"u","t":1986.37,"v":5.3},{"s":"u","t":1986.6,"v":4.7},{"s":"u","t":1986.86,"v":5.8},{"s":"u","t":1987.1,"v":5.6},{"s":"u","t":1987.35,"v":6.0},{"s":"u","t":1987.6,"v":6.7},{"s":"u","t":1987.84,"v":6.5},{"s":"u","t":1988.1,"v":7.5},{"s":"u","t":1988.33,"v":6.9},{"s":"u","t":1988.58,"v":7.5},{"s":"u","t":1988.82,"v":7.1},{"s":"u","t":1989.07,"v":7.8},{"s":"u","t":1989.3,"v":7.1},{"s":"u","t":1989.56,"v":6.8},{"s":"u","t":1989.8,"v":8.0},{"s":"u","t":1990.05,"v":8.6},{"s":"u","t":1990.3,"v":7.8},{"s":"u","t":1990.54,"v":7.9},{"s":"u","t":1990.78,"v":7.8},{"s":"u","t":1991.03,"v":8.0},{"s":"u","t":1991.27,"v":7.9},{"s":"u","t":1991.44,"v":8.4},{"s":"u","t":1991.68,"v":7.6},{"s":"u","t":1991.93,"v":8.2},{"s":"u","t":1992.2,"v":8.3},{"s":"u","t":1992.38,"v":7.8},{"s":"u","t":1992.62,"v":8.3},{"s":"u","t":1992.87,"v":7.9},{"s":"u","t":1993.03,"v":8.4},{"s":"u","t":1993.28,"v":8.0},{"s":"u","t":1993.52,"v":7.9},{"s":"u","t":1993.7,"v":7.3},{"s":"u","t":1993.85,"v":8.3},{"s":"u","t":1994.0,"v":9.1},{"s":"u","t":1994.2,"v":8.6},{"s":"u","t":1994.43,"v":8.4},{"s":"u","t":1994.67,"v":7.6},{"s":"u","t":1994.9,"v":7.3},{"s":"u","t":1995.08,"v":6.7},{"s":"u","t":1995.25,"v":6.8},{"s":"u","t":1995.5,"v":7.5},{"s":"u","t":1995.74,"v":8.2},{"s":"u","t":1996.0,"v":7.1},{"s":"u","t":1996.23,"v":8.2},{"s":"u","t":1996.48,"v":7.6},{"s":"u","t":1996.72,"v":8.3},{"s":"u","t":1996.97,"v":7.8},{"s":"u","t":1997.2,"v":8.0},{"s":"u","t":1997.46,"v":8.9},{"s":"u","t":1997.7,"v":8.3},{"s":"u","t":1997.95,"v":7.6},{"s":"u","t":1998.1,"v":6.8},{"s":"u","t":1998.36,"v":7.2},{"s":"u","t":1998.6,"v":6.8},{"s":"u","t":1998.77,"v":7.5},{"s":"u","t":1999.0,"v":6.9},{"s":"u","t":1999.1,"v":6.2},{"s":"u","t":1999.34,"v":7.1},{"s":"u","t":1999.6,"v":7.5},{"s":"u","t":1999.84,"v":7.9},{"s":"u","t":2000.08,"v":8.7},{"s":"u","t":2000.25,"v":7.9},{"s":"u","t":2000.4,"v":7.1},{"s":"u","t":2000.57,"v":6.9},{"s":"u","t":2000.74,"v":5.8},{"s":"u","t":2000.9,"v":7.1},{"s":"u","t":2001.07,"v":6.7},{"s":"u","t":2001.23,"v":6.2},{"s":"u","t":2001.48,"v":6.5},{"s":"u","t":2001.72,"v":5.8},{"s":"u","t":2001.97,"v":5.7},{"s":"u","t":2002.2,"v":6.0},{"s":"u","t":2002.46,"v":5.3},{"s":"u","t":2002.7,"v":5.8},{"s":"u","t":2002.95,"v":5.4},{"s":"u","t":2003.2,"v":6.0},{"s":"u","t":2003.44,"v":5.3},{"s":"u","t":2003.7,"v":5.1},{"s":"u","t":2003.85,"v":4.6},{"s":"u","t":2003.97,"v":3.9},{"s":"u","t":2004.18,"v":6.2},{"s":"u","t":2004.43,"v":6.5},{"s":"u","t":2004.67,"v":6.4},{"s":"u","t":2004.92,"v":6.7},{"s":"u","t":2005.08,"v":5.3},{"s":"u","t":2005.33,"v":5.6},{"s":"u","t":2005.57,"v":5.3},{"s":"u","t":2005.82,"v":6.1},{"s":"u","t":2006.07,"v":7.2},{"s":"u","t":2006.3,"v":6.5},{"s":"u","t":2006.56,"v":5.3},{"s":"u","t":2006.8,"v":5.7},{"s":"u","t":2007.05,"v":6.7},{"s":"u","t":2007.3,"v":5.4},{"s":"u","t":2007.54,"v":5.0},{"s":"u","t":2007.75,"v":4.5},
{"s":"l","t":1964.2,"v":-7.8},{"s":"l","t":1964.36,"v":-7.4},{"s":"l","t":1964.5,"v":-8.2},{"s":"l","t":1964.77,"v":-7.5},{"s":"l","t":1965.0,"v":-7.6},{"s":"l","t":1965.18,"v":-7.2},{"s":"l","t":1965.43,"v":-7.5},{"s":"l","t":1965.67,"v":-7.6},{"s":"l","t":1965.92,"v":-8.1},{"s":"l","t":1966.1,"v":-8.2},{"s":"l","t":1966.3,"v":-9.0},{"s":"l","t":1966.5,"v":-8.6},{"s":"l","t":1966.74,"v":-7.9},{"s":"l","t":1967.0,"v":-7.4},{"s":"l","t":1967.23,"v":-7.6},{"s":"l","t":1967.5,"v":-6.1},{"s":"l","t":1967.74,"v":-6.4},{"s":"l","t":1968.0,"v":-7.0},{"s":"l","t":1968.2,"v":-7.1},{"s":"l","t":1968.47,"v":-7.6},{"s":"l","t":1968.7,"v":-7.4},{"s":"l","t":1968.96,"v":-6.1},{"s":"l","t":1969.1,"v":-7.4},{"s":"l","t":1969.37,"v":-8.1},{"s":"l","t":1969.6,"v":-8.2},{"s":"l","t":1969.7,"v":-9.0},{"s":"l","t":1969.86,"v":-7.6},{"s":"l","t":1970.1,"v":-8.2},{"s":"l","t":1970.27,"v":-7.4},{"s":"l","t":1970.5,"v":-8.5},{"s":"l","t":1970.76,"v":-6.8},{"s":"l","t":1970.93,"v":-7.9},{"s":"l","t":1971.1,"v":-6.8},{"s":"l","t":1971.34,"v":-7.6},{"s":"l","t":1971.58,"v":-7.0},{"s":"l","t":1971.75,"v":-8.1},{"s":"l","t":1971.9,"v":-6.5},{"s":"l","t":1972.08,"v":-8.1},{"s":"l","t":1972.32,"v":-7.1},{"s":"l","t":1972.56,"v":-6.5},{"s":"l","t":1972.8,"v":-6.8},{"s":"l","t":1973.06,"v":-7.4},{"s":"l","t":1973.3,"v":-7.9},{"s":"l","t":1973.55,"v":-7.6},{"s":"l","t":1973.8,"v":-7.1},{"s":"l","t":1974.05,"v":-8.6},{"s":"l","t":1974.3,"v":-9.0},{"s":"l","t":1974.54,"v":-7.9},{"s":"l","t":1974.8,"v":-8.5},{"s":"l","t":1975.03,"v":-7.4},{"s":"l","t":1975.28,"v":-7.1},{"s":"l","t":1975.52,"v":-5.7},{"s":"l","t":1975.77,"v":-6.3},{"s":"l","t":1976.0,"v":-6.0},{"s":"l","t":1976.26,"v":-7.2},{"s":"l","t":1976.5,"v":-6.3},{"s":"l","t":1976.75,"v":-6.0},{"s":"l","t":1977.0,"v":-5.8},{"s":"l","t":1977.2,"v":-5.7},{"s":"l","t":1977.47,"v":-6.1},{"s":"l","t":1977.7,"v":-5.9},{"s":"l","t":1977.96,"v":-6.0},{"s":"l","t":1978.2,"v":-7.0},{"s":"l","t":1978.45,"v":-6.3},{"s":"l","t":1978.7,"v":-5.4},{"s":"l","t":1978.94,"v":-6.3},{"s":"l","t":1979.18,"v":-6.0},{"s":"l","t":1979.43,"v":-6.3},{"s":"l","t":1979.67,"v":-5.7},{"s":"l","t":1979.84,"v":-5.0},{"s":"l","t":1980.08,"v":-5.6},{"s":"l","t":1980.33,"v":-5.2},{"s":"l","t":1980.57,"v":-6.4},{"s":"l","t":1980.8,"v":-6.7},{"s":"l","t":1981.06,"v":-5.7},{"s":"l","t":1981.3,"v":-7.0},{"s":"l","t":1981.55,"v":-7.8},{"s":"l","t":1981.8,"v":-7.1},{"s":"l","t":1982.04,"v":-7.4},{"s":"l","t":1982.29,"v":-6.3},{"s":"l","t":1982.53,"v":-6.8},{"s":"l","t":1982.78,"v":-7.4},{"s":"l","t":1983.02,"v":-5.6},{"s":"l","t":1983.27,"v":-6.3},{"s":"l","t":1983.5,"v":-5.7},{"s":"l","t":1983.68,"v":-5.2},{"s":"l","t":1983.92,"v":-6.1},{"s":"l","t":1984.17,"v":-6.3},{"s":"l","t":1984.41,"v":-6.8},{"s":"l","t":1984.66,"v":-6.4},{"s":"l","t":1984.9,"v":-6.8},{"s":"l","t":1985.07,"v":-7.4},{"s":"l","t":1985.23,"v":-5.3},{"s":"l","t":1985.47,"v":-5.9},{"s":"l","t":1985.72,"v":-6.3},{"s":"l","t":1985.96,"v":-6.4},{"s":"l","t":1986.2,"v":-5.2},{"s":"l","t":1986.45,"v":-5.7},{"s":"l","t":1986.7,"v":-6.0},{"s":"l","t":1986.94,"v":-7.4},{"s":"l","t":1987.2,"v":-6.3},{"s":"l","t":1987.43,"v":-6.0},{"s":"l","t":1987.68,"v":-6.4},{"s":"l","t":1987.92,"v":-7.1},{"s":"l","t":1988.17,"v":-6.8},{"s":"l","t":1988.4,"v":-6.3},{"s":"l","t":1988.66,"v":-5.3},{"s":"l","t":1988.82,"v":-7.1},{"s":"l","t":1989.07,"v":-6.0},{"s":"l","t":1989.3,"v":-6.5},{"s":"l","t":1989.56,"v":-7.0},{"s":"l","t":1989.8,"v":-6.3},{"s":"l","t":1990.05,"v":-7.2},{"s":"l","t":1990.2,"v":-7.9},{"s":"l","t":1990.46,"v":-7.4},{"s":"l","t":1990.7,"v":-6.8},{"s":"l","t":1990.95,"v":-7.9},{"s":"l","t":1991.03,"v":-8.5},{"s":"l","t":1991.27,"v":-7.4},{"s":"l","t":1991.52,"v":-7.0},{"s":"l","t":1991.68,"v":-6.4},{"s":"l","t":1991.93,"v":-7.5},{"s":"l","t":1992.2,"v":-7.0},{"s":"l","t":1992.46,"v":-6.8},{"s":"l","t":1992.7,"v":-6.7},{"s":"l","t":1992.95,"v":-7.0},{"s":"l","t":1993.1,"v":-7.4},{"s":"l","t":1993.36,"v":-5.3},{"s":"l","t":1993.6,"v":-6.4},{"s":"l","t":1993.85,"v":-6.0},{"s":"l","t":1994.1,"v":-6.5},{"s":"l","t":1994.34,"v":-5.7},{"s":"l","t":1994.6,"v":-5.4},{"s":"l","t":1994.75,"v":-4.6},{"s":"l","t":1994.92,"v":-6.3},{"s":"l","t":1995.16,"v":-6.4},{"s":"l","t":1995.4,"v":-5.9},{"s":"l","t":1995.66,"v":-6.4},{"s":"l","t":1995.9,"v":-5.4},{"s":"l","t":1996.07,"v":-4.9},{"s":"l","t":1996.3,"v":-5.4},{"s":"l","t":1996.56,"v":-5.7},{"s":"l","t":1996.8,"v":-5.3},{"s":"l","t":1997.05,"v":-5.9},{"s":"l","t":1997.3,"v":-5.2},{"s":"l","t":1997.46,"v":-4.9},{"s":"l","t":1997.7,"v":-5.7},{"s":"l","t":1997.95,"v":-5.9},{"s":"l","t":1998.1,"v":-7.1},{"s":"l","t":1998.36,"v":-6.4},{"s":"l","t":1998.6,"v":-7.0},{"s":"l","t":1998.85,"v":-7.4},{"s":"l","t":1999.1,"v":-8.2},{"s":"l","t":1999.34,"v":-8.6},{"s":"l","t":1999.6,"v":-7.8},{"s":"l","t":1999.84,"v":-7.9},{"s":"l","t":2000.08,"v":-7.8},{"s":"l","t":2000.33,"v":-7.5},{"s":"l","t":2000.57,"v":-7.6},{"s":"l","t":2000.82,"v":-7.2},{"s":"l","t":2001.07,"v":-6.3},{"s":"l","t":2001.3,"v":-7.1},{"s":"l","t":2001.56,"v":-6.5},{"s":"l","t":2001.75,"v":-5.6},{"s":"l","t":2001.97,"v":-7.1},{"s":"l","t":2002.2,"v":-7.4},{"s":"l","t":2002.46,"v":-7.6},{"s":"l","t":2002.62,"v":-8.2},{"s":"l","t":2002.8,"v":-9.0},{"s":"l","t":2002.95,"v":-8.1},{"s":"l","t":2003.2,"v":-8.2},{"s":"l","t":2003.44,"v":-7.4},{"s":"l","t":2003.6,"v":-7.0},{"s":"l","t":2003.77,"v":-7.6},{"s":"l","t":2004.0,"v":-8.1},{"s":"l","t":2004.26,"v":-8.5},{"s":"l","t":2004.5,"v":-9.2},{"s":"l","t":2004.67,"v":-10.0},{"s":"l","t":2004.85,"v":-10.3},{"s":"l","t":2005.0,"v":-9.9},{"s":"l","t":2005.2,"v":-10.2},{"s":"l","t":2005.4,"v":-9.8},{"s":"l","t":2005.6,"v":-10.1},{"s":"l","t":2005.8,"v":-9.7},{"s":"l","t":2006.0,"v":-10.2},{"s":"l","t":2006.2,"v":-9.9},{"s":"l","t":2006.4,"v":-10.3},{"s":"l","t":2006.6,"v":-9.6},{"s":"l","t":2006.8,"v":-9.8},{"s":"l","t":2007.0,"v":-10.2},{"s":"l","t":2007.2,"v":-9.9},{"s":"l","t":2007.4,"v":-10.3},{"s":"l","t":2007.75,"v":-10.1}
]
},
"vconcat": [
{
  "width": 892, "height": 242.5,
  "data": {"name": "p1"},
  "layer": [
    {"transform": [{"filter": "datum.s == 'm'"}],
     "mark": {"type": "line", "color": "black", "strokeWidth": 2.6, "clip": true},
     "encoding": {
       "x": {"field": "t", "type": "quantitative", "scale": {"domain": [1963.95, 2007.75], "nice": false, "zero": false},
             "axis": {"orient": "bottom", "values": [1965,1970,1975,1980,1985,1990,1995,2000,2005], "format": "d", "labelPadding": 15,
                      "labelFont": "DejaVu Sans", "labelFontSize": 18.5,
                      "title": "Monthly Conditional Sharpe Ratio of 1 Year Bond", "titleBaseline": "alphabetic", "titleY": 47}},
       "y": {"field": "v", "type": "quantitative", "scale": {"domain": [-10, 10], "nice": false, "zero": false},
             "axis": {"orient": "left", "values": [-10,-5,0,5,10], "labelPadding": 13, "labelFont": "DejaVu Sans", "labelFontSize": 18.5, "title": null}}
     }},
    {"transform": [{"filter": "datum.s != 'm'"}],
     "mark": {"type": "line", "color": "black", "strokeWidth": 1, "strokeDash": [3, 2], "clip": true},
     "encoding": {
       "detail": {"field": "s"},
       "x": {"field": "t", "type": "quantitative", "scale": {"domain": [1963.95, 2007.75], "nice": false, "zero": false},
             "axis": {"orient": "top", "values": [1965,1970,1975,1980,1985,1990,1995,2000,2005], "labels": false, "title": null}},
       "y": {"field": "v", "type": "quantitative", "scale": {"domain": [-10, 10], "nice": false, "zero": false},
             "axis": {"orient": "right", "values": [-10,-5,0,5,10], "labels": false, "title": null}}
     }}
  ],
  "resolve": {"axis": {"x": "independent", "y": "independent"}}
},
{
  "width": 892, "height": 242,
  "data": {"name": "p2"},
  "layer": [
    {"transform": [{"filter": "datum.s == 'm'"}],
     "mark": {"type": "line", "color": "black", "strokeWidth": 2.6, "clip": true},
     "encoding": {
       "x": {"field": "t", "type": "quantitative", "scale": {"domain": [1963.95, 2007.75], "nice": false, "zero": false},
             "axis": {"orient": "bottom", "values": [1965,1970,1975,1980,1985,1990,1995,2000,2005], "format": "d", "labelPadding": 16,
                      "labelFont": "DejaVu Sans", "labelFontSize": 18.5,
                      "title": "Monthly Conditional Sharpe Ratio of 5 Year Bond", "titleBaseline": "alphabetic", "titleY": 40.5}},
       "y": {"field": "v", "type": "quantitative", "scale": {"domain": [-10, 10], "nice": false, "zero": false},
             "axis": {"orient": "left", "values": [-10,-5,0,5,10], "labelPadding": 13, "labelFont": "DejaVu Sans", "labelFontSize": 18.5, "title": null}}
     }},
    {"transform": [{"filter": "datum.s != 'm'"}],
     "mark": {"type": "line", "color": "black", "strokeWidth": 1, "strokeDash": [3, 2], "clip": true},
     "encoding": {
       "detail": {"field": "s"},
       "x": {"field": "t", "type": "quantitative", "scale": {"domain": [1963.95, 2007.75], "nice": false, "zero": false},
             "axis": {"orient": "top", "values": [1965,1970,1975,1980,1985,1990,1995,2000,2005], "labels": false, "title": null}},
       "y": {"field": "v", "type": "quantitative", "scale": {"domain": [-10, 10], "nice": false, "zero": false},
             "axis": {"orient": "right", "values": [-10,-5,0,5,10], "labels": false, "title": null}}
     }}
  ],
  "resolve": {"axis": {"x": "independent", "y": "independent"}}
}
]
}
